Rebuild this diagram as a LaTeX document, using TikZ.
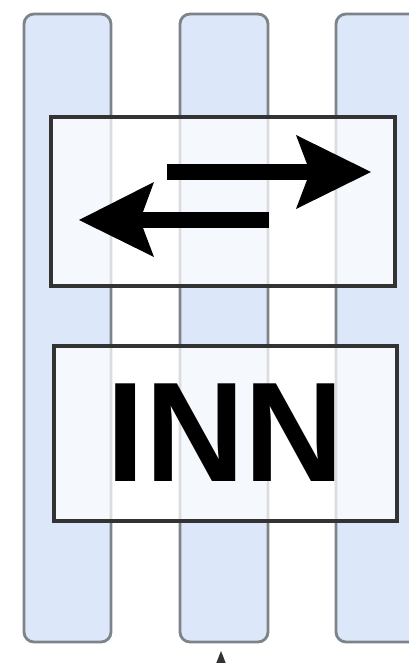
\documentclass[tikz,border=0pt]{standalone}
\usepackage{fontspec}
\setmainfont{Liberation Sans}
\begin{document}
\begin{tikzpicture}[x=0.75pt,y=-0.75pt,
  column/.style={fill=colfill,draw=colline,line width=2.8pt*0.75,rounded corners=7.5pt},
  panel/.style={fill=white,fill opacity=0.72,draw=boxline,draw opacity=1,line width=3.4pt*0.75},
  arrowshape/.style={fill=black,draw=none}]
\definecolor{colfill}{HTML}{DCE8FA}
\definecolor{colline}{HTML}{7D8489}
\definecolor{boxline}{HTML}{333333}
\useasboundingbox (0,0) rectangle (409,663);
\clip (0,0) rectangle (409,663);
\fill[white] (0,0) rectangle (409,663);
% columns
\draw[column] (24,14) rectangle (111,642) coordinate (c1);
\draw[column] (180,14) rectangle (268,642) coordinate (c2);
\draw[column] (336,14) rectangle (426,642) coordinate (c3);
% upper panel
\draw[panel] (51,117) rectangle (395,286);
\node (up) at (223,201) {};
% right arrow
\fill[arrowshape] (167,164) rectangle (312,180);
\fill[arrowshape] (371,172) -- (296,135) -- (310,172) -- (296,209) -- cycle;
% left arrow
\fill[arrowshape] (138,212) rectangle (269,228);
\fill[arrowshape] (79,220) -- (154,182) -- (140,220) -- (154,257) -- cycle;
% lower panel
\draw[panel] (54,346) rectangle (397,521);
\node[anchor=base,inner sep=0pt,font=\bfseries\fontsize{106.5}{106.5}\selectfont,xscale=0.97] (inn) at (225.5,481) {INN};
% bottom arrow head
\coordinate (bt) at (221,651);
\fill[boxline] (bt) -- (215.5,665) -- (226.5,665) -- cycle;
\end{tikzpicture}
\end{document}
